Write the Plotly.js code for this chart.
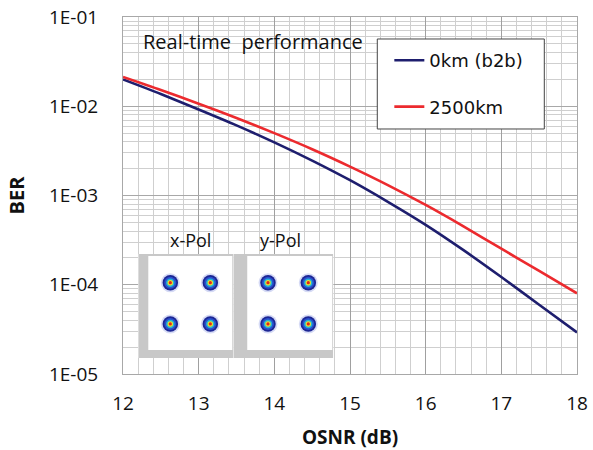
<!DOCTYPE html>
<html>
<head>
<meta charset="utf-8">
<script src="https://cdn.plot.ly/plotly-3.0.1.min.js"></script>
<style>html,body{margin:0;padding:0;background:#fff;}#chart{width:593px;height:450px;}</style>
</head>
<body>
<div id="chart"></div>
<script>
// ---- data ----
var osnr = [12, 12.5, 13, 13.5, 14, 14.5, 15, 15.5, 16, 16.5, 17, 17.5, 18];
var berB2b = [1.995e-2, 1.371e-2, 9.20e-3, 6.11e-3, 3.94e-3, 2.46e-3, 1.483e-3, 8.49e-4, 4.69e-4, 2.44e-4, 1.219e-4, 5.97e-5, 2.92e-5];
var ber2500 = [2.133e-2, 1.524e-2, 1.069e-2, 7.40e-3, 5.00e-3, 3.30e-3, 2.109e-3, 1.309e-3, 7.83e-4, 4.51e-4, 2.535e-4, 1.426e-4, 8.02e-5];
var seriesNames = ['0km (b2b)', '2500km'];
var yTickVals = [1e-5, 1e-4, 1e-3, 1e-2, 1e-1];
var yTickText = ['1E-05', '1E-04', '1E-03', '1E-02', '1E-01'];
var xTickVals = [12, 13, 14, 15, 16, 17, 18];
// QPSK constellation (I, Q) for the two polarisation insets
var constI = [-1, 1, -1, 1];
var constQ = [1, 1, -1, -1];
var polLabels = ['x-Pol', 'y-Pol'];

var blue = '#1e1e6e', red = '#ec2a2e';
var tickFont = {family: 'Open Sans, Liberation Sans, sans-serif', size: 19, color: '#111'};

var traces = [
  {x: osnr, y: berB2b, name: seriesNames[0], mode: 'lines', line: {color: blue, width: 2.6, shape: 'spline', smoothing: 0.8}, legendgroup: 'a'},
  {x: osnr, y: ber2500, name: seriesNames[1], mode: 'lines', line: {color: red, width: 2.6, shape: 'spline', smoothing: 0.8}, legendgroup: 'b'}
];

// heat-map-like constellation spots, built up in rings
var rings = [
  {size: 19, color: 'rgba(70,90,210,0.22)'},
  {size: 15.5, color: '#1c2694'},
  {size: 12, color: '#2a4fcc'},
  {size: 8.5, color: '#22b4d6'},
  {size: 5.5, color: '#e8e030'},
  {size: 3.2, color: '#e4261a'}
];
['2', '3'].forEach(function (ax) {
  rings.forEach(function (r) {
    traces.push({x: constI, y: constQ, xaxis: 'x' + ax, yaxis: 'y' + ax, mode: 'markers', showlegend: false, hoverinfo: 'skip',
      marker: {size: r.size, color: r.color, line: {width: 0}}});
  });
});

function insetAxis(dom, rng) {
  return {domain: dom, range: rng, showgrid: false, zeroline: false, showticklabels: false, ticks: '', showline: false, fixedrange: true};
}

var layout = {
  width: 593, height: 450,
  margin: {l: 123, r: 16, t: 17, b: 76},
  paper_bgcolor: '#fff', plot_bgcolor: '#fff',
  font: {family: 'Open Sans, sans-serif', color: '#111'},
  showlegend: true,
  legend: {
    x: 0.558, y: 0.930, xanchor: 'left', yanchor: 'top',
    bgcolor: 'rgba(0,0,0,0)', borderwidth: 0,
    font: {family: 'DejaVu Sans, sans-serif', size: 18, color: '#111'},
    tracegroupgap: 20, itemwidth: 30, indentation: 13, traceorder: 'grouped'
  },
  xaxis: {
    range: [12, 18], tickmode: 'array', tickvals: xTickVals, ticks: '', tickfont: tickFont, ticklabelstandoff: 12,
    showgrid: true, gridcolor: '#a0a0a0', gridwidth: 1, zeroline: false,
    minor: {dtick: 0.2, showgrid: true, gridcolor: '#cfcfcf', gridwidth: 1, ticks: ''},
    showline: true, linecolor: '#a8a8a8', linewidth: 1, mirror: true,
    title: {text: '<b>OSNR (dB)</b>', font: {family: 'Open Sans, sans-serif', size: 19, color: '#111'}, standoff: 16}
  },
  yaxis: {
    type: 'log', range: [-5, -1], tickmode: 'array', tickvals: yTickVals, ticktext: yTickText, ticks: '', tickfont: tickFont, ticklabelstandoff: 20,
    showgrid: true, gridcolor: '#a8a8a8', gridwidth: 1, zeroline: false,
    minor: {dtick: 'D1', showgrid: true, gridcolor: '#cfcfcf', gridwidth: 1, ticks: ''},
    showline: true, linecolor: '#a8a8a8', linewidth: 1, mirror: true,
    title: {text: '<b>BER</b>', font: {family: 'Open Sans, sans-serif', size: 20, color: '#111'}, standoff: 18}
  },
  xaxis2: insetAxis([0.0337, 0.2430], [-2.6, 2.15]),
  yaxis2: insetAxis([0.0448, 0.3361], [-2.65, 2.39]),
  xaxis3: insetAxis([0.2430, 0.4632], [-2.72, 2.24]),
  yaxis3: insetAxis([0.0448, 0.3361], [-2.65, 2.39]),
  shapes: [
    {type: 'rect', xref: 'x2', yref: 'y2', x0: -2.6, x1: 2.15, y0: -2.65, y1: 2.39, layer: 'below', fillcolor: '#c8c8c8', line: {width: 0}},
    {type: 'rect', xref: 'x2', yref: 'y2', x0: -2.1, x1: 2.1, y0: -2.26, y1: 2.29, layer: 'below', fillcolor: '#fff', line: {width: 0}},
    {type: 'rect', xref: 'x3', yref: 'y3', x0: -2.72, x1: 2.24, y0: -2.65, y1: 2.39, layer: 'below', fillcolor: '#c8c8c8', line: {width: 0}},
    {type: 'rect', xref: 'x3', yref: 'y3', x0: -2.03, x1: 2.19, y0: -2.26, y1: 2.29, layer: 'below', fillcolor: '#fff', line: {width: 0}},
    // legend frame
    {type: 'rect', xref: 'paper', yref: 'paper', x0: 0.5601, x1: 0.928, y0: 0.6863, y1: 0.9384, layer: 'above', fillcolor: '#fff', line: {color: '#444', width: 1}}
  ],
  annotations: [
    {text: 'Real-time  performance', xref: 'paper', yref: 'paper', x: 0.040, y: 0.93, xanchor: 'left', yanchor: 'middle', showarrow: false,
      font: {family: 'Open Sans, sans-serif', size: 20, color: '#111'}},
    {text: polLabels[0], xref: 'paper', yref: 'paper', x: 0.1490, y: 0.375, xanchor: 'center', yanchor: 'middle', showarrow: false,
      font: {family: 'Open Sans, sans-serif', size: 18, color: '#111'}},
    {text: polLabels[1], xref: 'paper', yref: 'paper', x: 0.3465, y: 0.375, xanchor: 'center', yanchor: 'middle', showarrow: false,
      font: {family: 'Open Sans, sans-serif', size: 18, color: '#111'}}
  ]
};

Plotly.newPlot('chart', traces, layout, {displayModeBar: false, staticPlot: true});
</script>
</body>
</html>
